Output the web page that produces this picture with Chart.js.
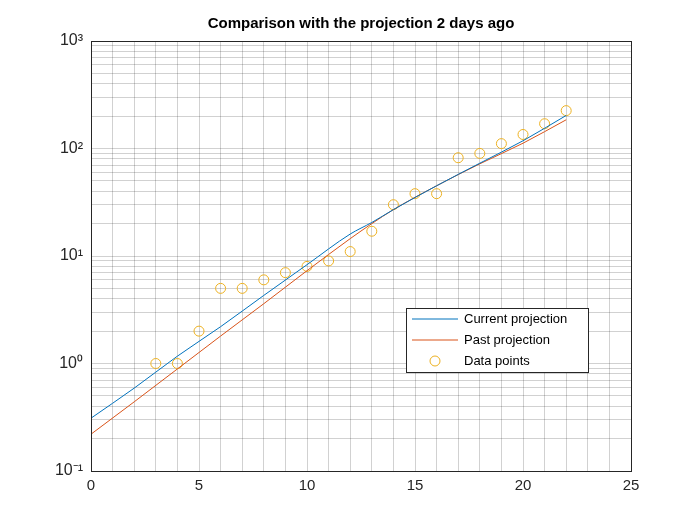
<!DOCTYPE html>
<html>
<head>
<script src="https://cdn.jsdelivr.net/npm/chart.js@4.4.0/dist/chart.umd.min.js"></script>
<style>
  body { margin: 0; background: #fff; }
  #wrap { width: 700px; height: 525px; }
</style>
</head>
<body>
<div id="wrap"><canvas id="c"></canvas></div>
<script>
// data
const fitX = [0, 2, 4, 6, 8, 10, 12, 13, 14, 16, 18, 20, 22];
const curLine = [0.31, 0.59, 1.17, 2.2, 4.3, 8.3, 16, 20.5, 27, 45, 73, 118, 203];
const pastLine = [0.22, 0.44, 0.89, 1.8, 3.6, 7.3, 14.5, 20, 27, 45, 72, 112, 185];
const dataX = [3, 4, 5, 6, 7, 8, 9, 10, 11, 12, 13, 14, 15, 16, 17, 18, 19, 20, 21, 22];
const dataY = [1, 1, 2, 5, 5, 6, 7, 8, 9, 11, 17, 30, 38, 38, 82, 90, 111, 135, 170, 225];

const curPts = fitX.map((x, i) => ({x: x, y: curLine[i]}));
const pastPts = fitX.map((x, i) => ({x: x, y: pastLine[i]}));
const dataPts = dataX.map((x, i) => ({x: x, y: dataY[i]}));

const legendItems = [
  {label: 'Current projection', color: '#0072BD', type: 'line'},
  {label: 'Past projection', color: '#D95319', type: 'line'},
  {label: 'Data points', color: '#EDB120', type: 'circle'}
];

const decadeLabels = {'0.1': '10⁻¹', '1': '10⁰', '10': '10¹', '100': '10²', '1000': '10³'};

const boxPlugin = {
  id: 'boxPlugin',
  afterDraw(chart) {
    const {ctx, chartArea: {top, left, right, bottom}} = chart;
    ctx.save();
    ctx.strokeStyle = '#262626';
    ctx.lineWidth = 1;
    ctx.strokeRect(left + 0.5, top + 0.5, right - left, bottom - top);
    // title centred over the plot
    ctx.fillStyle = '#000';
    ctx.font = 'bold 15px Arial';
    ctx.textAlign = 'center';
    ctx.textBaseline = 'middle';
    ctx.fillText('Comparison with the projection 2 days ago', (left + right) / 2, 24);
    ctx.textAlign = 'left';
    // legend box
    const lx = 406, ly = 308, w = 182, h = 64;
    ctx.fillStyle = '#fff';
    ctx.fillRect(lx, ly, w, h);
    ctx.strokeRect(lx + 0.5, ly + 0.5, w, h);
    ctx.font = '13px Arial';
    legendItems.forEach((it, i) => {
      const yy = ly + 11 + i * 21;
      ctx.strokeStyle = it.color;
      ctx.beginPath();
      if (it.type === 'line') {
        ctx.moveTo(lx + 6, yy); ctx.lineTo(lx + 52, yy);
      } else {
        ctx.arc(lx + 29, yy, 5, 0, Math.PI * 2);
      }
      ctx.stroke();
      ctx.fillStyle = '#000';
      ctx.fillText(it.label, lx + 58, yy);
    });
    ctx.restore();
  }
};

new Chart(document.getElementById('c'), {
  type: 'scatter',
  data: {
    datasets: [
      {label: 'Current projection', data: curPts, showLine: true, borderColor: '#0072BD', borderWidth: 1, pointRadius: 0, cubicInterpolationMode: 'monotone'},
      {label: 'Past projection', data: pastPts, showLine: true, borderColor: '#D95319', borderWidth: 1, pointRadius: 0, cubicInterpolationMode: 'monotone'},
      {label: 'Data points', data: dataPts, borderColor: '#EDB120', backgroundColor: 'rgba(0,0,0,0)', borderWidth: 1, pointRadius: 5}
    ]
  },
  options: {
    responsive: true,
    maintainAspectRatio: false,
    animation: false,
    layout: {padding: {left: 0, right: 69, top: 41, bottom: 0}},
    plugins: {
      legend: {display: false},
      tooltip: {enabled: false},
      title: {display: false}
    },
    scales: {
      x: {
        type: 'linear', min: 0, max: 25,
        afterBuildTicks(s) { s.ticks = []; for (let v = 0; v <= 25; v++) s.ticks.push({value: v}); },
        ticks: {autoSkip: false, maxRotation: 0, color: '#262626', font: {family: 'Arial', size: 15}, padding: 6,
          callback: v => (v % 5 === 0 ? String(v) : '')},
        grid: {color: 'rgba(0,0,0,0.18)', lineWidth: 1, drawTicks: false},
        border: {display: false},
        afterFit(s) { s.height = 54; }
      },
      y: {
        type: 'logarithmic', min: 0.1, max: 1000,
        afterBuildTicks(s) {
          s.ticks = [];
          [0.1, 1, 10, 100].forEach(d => { for (let m = 1; m <= 9; m++) s.ticks.push({value: +(d * m).toPrecision(3)}); });
          s.ticks.push({value: 1000});
        },
        ticks: {autoSkip: false, color: '#262626', font: {family: 'Arial', size: 16}, padding: 8,
          callback: v => decadeLabels[String(v)] || ''},
        grid: {color: 'rgba(0,0,0,0.18)', lineWidth: 1, drawTicks: false},
        border: {display: false},
        afterFit(s) { s.width = 91; }
      }
    }
  },
  plugins: [boxPlugin]
});
</script>
</body>
</html>
